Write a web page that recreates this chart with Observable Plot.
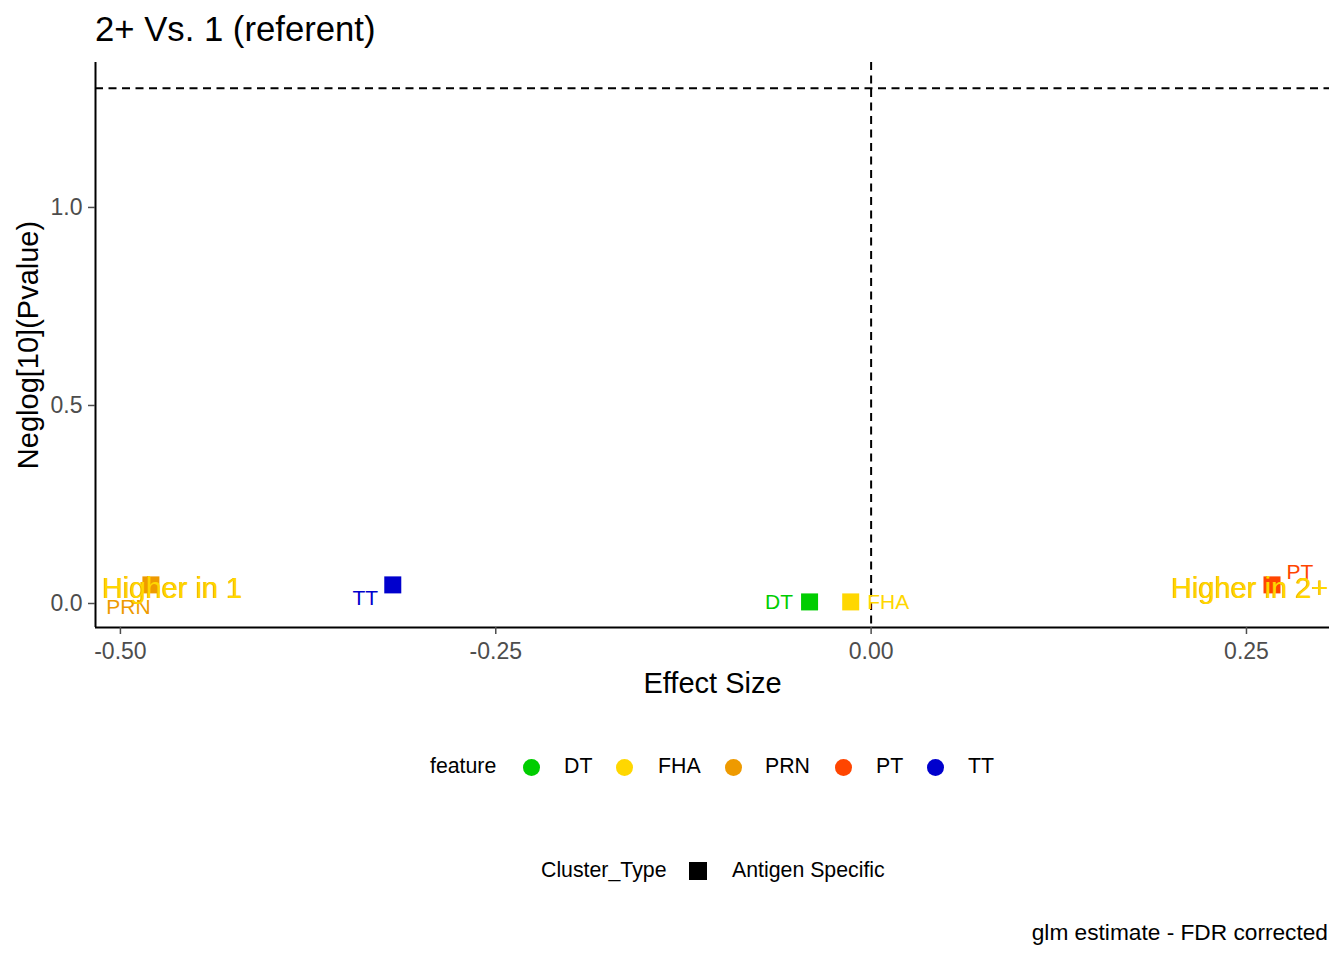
<!DOCTYPE html>
<html>
<head>
<meta charset="utf-8">
<script src="https://cdn.jsdelivr.net/npm/d3@7"></script>
<script src="https://cdn.jsdelivr.net/npm/@observablehq/plot@0.6"></script>
<style>
  html, body { margin: 0; padding: 0; background: #fff; }
  body { width: 1344px; height: 960px; position: relative; overflow: hidden;
         font-family: "Liberation Sans", Arial, sans-serif; color: #000; }
  .abs { position: absolute; line-height: 1; white-space: nowrap; }
  #title { left: 95px; top: 12px; font-size: 34.7px; }
  #chart { position: absolute; left: 0; top: 50px; }
  .lg { font-size: 21.3px; }
  .dotsw { position: absolute; width: 17px; height: 17px; border-radius: 50%; }
  .sqsw { position: absolute; width: 18px; height: 18px; background: #000; }
  #caption { right: 16px; top: 921px; font-size: 22.7px; }
</style>
</head>
<body>
<div id="title" class="abs">2+ Vs. 1 (referent)</div>
<div id="chart"></div>
<div id="legend"></div>
<div id="caption" class="abs">glm estimate - FDR corrected</div>
<script>
// ---- data ----
const features = ["DT", "FHA", "PRN", "PT", "TT"];
const featureColors = ["#00CD00", "#FFD700", "#EE9A00", "#FF4500", "#0000CD"];
const effectSize = [-0.041, -0.0136, -0.4797, 0.267, -0.3186];
const neglogP = [0.004, 0.004, 0.047, 0.047, 0.047];
const clusterTypes = ["Antigen Specific"];
const xTicks = [-0.5, -0.25, 0, 0.25];
const yTicks = [0, 0.5, 1.0];
const sigLine = -Math.log10(0.05);
const annotations = ["Higher in 1", "Higher in 2+"];
const annotX = [-0.4654, 0.2523];
const annotY = [0.038, 0.038];
// repel-style label offsets (pixels)
const labelDx = [-30.5, 37.5, -22.5, 28, -27.5];
const labelDy = [0.5, 0.5, 22.5, -12.5, 13.5];

const rows = features.map((f, i) => ({feature: f, effect: effectSize[i], p: neglogP[i], type: clusterTypes[0]}));
const xDomain = [-0.5166, 0.3053];
const yDomain = [-0.0606, 1.366];

const labelMarks = rows.map((d, i) => Plot.text([d], {
  x: "effect", y: "p", text: "feature", fill: "feature",
  dx: labelDx[i], dy: labelDy[i], fontSize: 21, lineAnchor: "middle"
}));

const annotData = annotations.map((t, i) => ({t, x: annotX[i], y: annotY[i]}));

const chart = Plot.plot({
  width: 1344,
  height: 650,
  marginTop: 12,
  marginLeft: 95,
  marginRight: 15,
  marginBottom: 73,
  style: {fontFamily: "Liberation Sans, Arial, sans-serif", background: "white"},
  x: {domain: xDomain},
  y: {domain: yDomain},
  color: {domain: features, range: featureColors},
  marks: [
    Plot.ruleY([sigLine], {stroke: "#000", strokeWidth: 2, strokeDasharray: "8,5.5"}),
    Plot.ruleX([0], {stroke: "#000", strokeWidth: 2, strokeDasharray: "8,5.5"}),
    Plot.ruleY([yDomain[0]], {stroke: "#000", strokeWidth: 2}),
    Plot.ruleX([xDomain[0]], {stroke: "#000", strokeWidth: 2}),
    Plot.axisX({ticks: xTicks, tickFormat: d => d.toFixed(2), label: null, tickSize: 7,
                tickPadding: 8, fontSize: 23, color: "#4D4D4D", strokeWidth: 1.5}),
    Plot.axisY({ticks: yTicks, tickFormat: d => d.toFixed(1), label: null, tickSize: 7,
                tickPadding: 6, fontSize: 23, color: "#4D4D4D", strokeWidth: 1.5}),
    Plot.dot(rows, {x: "effect", y: "p", fill: "feature", symbol: "square", r: 9.6, stroke: null}),
    ...labelMarks,
    Plot.text(annotData, {x: "x", y: "y", text: "t", fill: "#EE9A00", fontSize: 29, dx: -0.6, lineAnchor: "middle"}),
    Plot.text(annotData, {x: "x", y: "y", text: "t", fill: "#FFD700", fontSize: 29, lineAnchor: "middle"}),
    Plot.text(["Effect Size"], {frameAnchor: "bottom", text: d => d, dy: 56, fontSize: 29, fill: "#000", lineAnchor: "middle", textAnchor: "middle"}),
    Plot.text(["Neglog[10](Pvalue)"], {frameAnchor: "left", text: d => d, dx: -67, rotate: -90, fontSize: 29, fill: "#000", lineAnchor: "middle", textAnchor: "middle"})
  ]
});
document.getElementById("chart").appendChild(chart);

// ---- legends (HTML) ----
const legend = document.getElementById("legend");
function addText(txt, left, top) {
  const el = document.createElement("div");
  el.className = "abs lg";
  el.style.left = left + "px";
  el.style.top = top + "px";
  el.textContent = txt;
  legend.appendChild(el);
}
addText("feature", 430, 756);
const swatchCx = [531, 624, 733, 843, 935];
const swatchTextX = [564, 658, 765, 876, 968];
features.forEach((f, i) => {
  const c = document.createElement("div");
  c.className = "dotsw";
  c.style.left = (swatchCx[i] - 8.5) + "px";
  c.style.top = (767 - 8.5) + "px";
  c.style.background = featureColors[i];
  legend.appendChild(c);
  addText(f, swatchTextX[i], 756);
});
addText("Cluster_Type", 541, 860);
const sq = document.createElement("div");
sq.className = "sqsw";
sq.style.left = "689px";
sq.style.top = "862px";
legend.appendChild(sq);
addText(clusterTypes[0], 732, 860);
</script>
</body>
</html>
